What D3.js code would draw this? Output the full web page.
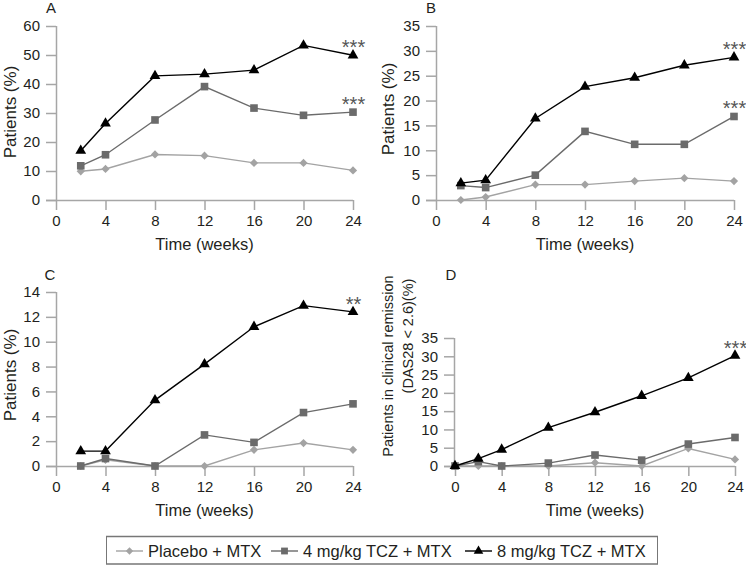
<!DOCTYPE html>
<html>
<head>
<meta charset="utf-8">
<script src="https://cdn.jsdelivr.net/npm/d3@7"></script>
<style>
  html, body { margin: 0; padding: 0; background: #fff; }
  svg { display: block; font-family: "Liberation Sans", Arial, Helvetica, sans-serif; }
</style>
</head>
<body>
<svg id="chart" width="746" height="566"></svg>
<script>
// ---------- DATA ----------
const weeksABC = [2, 4, 8, 12, 16, 20, 24];
const weeksD = [0, 2, 4, 8, 12, 16, 20, 24];
const xTicks = [0, 4, 8, 12, 16, 20, 24];

const seriesNames = ["Placebo + MTX", "4 mg/kg TCZ + MTX", "8 mg/kg TCZ + MTX"];

// Panel A
const placeboA = [9.9, 10.7, 15.7, 15.3, 12.8, 12.8, 10.2];
const tcz4A    = [11.8, 15.6, 27.6, 39.1, 31.7, 29.2, 30.3];
const tcz8A    = [17.0, 26.4, 42.8, 43.4, 44.8, 53.3, 49.9];
const yTicksA  = [0, 10, 20, 30, 40, 50, 60];

// Panel B
const placeboB = [0, 0.6, 3.1, 3.1, 3.8, 4.4, 3.8];
const tcz4B    = [2.9, 2.5, 5.0, 13.8, 11.2, 11.2, 16.8];
const tcz8B    = [3.4, 4.0, 16.4, 22.8, 24.6, 27.1, 28.7];
const yTicksB  = [0, 5, 10, 15, 20, 25, 30, 35];

// Panel C
const placeboC = [0, 0.5, 0, 0, 1.3, 1.85, 1.3];
const tcz4C    = [0, 0.6, 0, 2.5, 1.9, 4.3, 5.0];
const tcz8C    = [1.2, 1.2, 5.3, 8.2, 11.2, 12.9, 12.4];
const yTicksC  = [0, 2, 4, 6, 8, 10, 12, 14];

// Panel D
const placeboD = [0, 0, 0, 0, 0.9, 0, 4.8, 1.8];
const tcz4D    = [0, 1.2, 0, 0.8, 3.0, 1.6, 6.0, 7.8];
const tcz8D    = [0, 2.0, 4.5, 10.5, 14.7, 19.2, 24.1, 30.2];
const yTicksD  = [0, 5, 10, 15, 20, 25, 30, 35];

const sigA = ["***", "***"]; // 8 mg, 4 mg
const sigB = ["***", "***"];
const sigC = ["**", null];
const sigD = ["***", null];

// ---------- STYLE ----------
const colors = ["#a3a3a3", "#6b6b6b", "#000000"];
const axisColor = "#a6a6a6";
const textColor = "#231f20";

function markerPath(si, scale) {
  const k = scale || 1;
  if (si === 0) return d3.symbol().type(d3.symbolSquare).size(34 * k)();
  if (si === 1) return d3.symbol().type(d3.symbolSquare).size(58 * k)();
  return d3.symbol().type(d3.symbolTriangle).size(50 * k)();
}
function markerRot(si) { return si === 0 ? " rotate(45)" : ""; }

const svg = d3.select("#chart");

function drawPanel(cfg) {
  const g = svg.append("g");
  const x = d3.scaleLinear().domain([0, 24]).range(cfg.xr);
  const y = d3.scaleLinear().domain([0, cfg.yTicks[cfg.yTicks.length - 1]]).range(cfg.yr);
  const ax = cfg.axisX;
  const tickLen = 10;

  // y axis
  const yAxis = d3.axisLeft(y).tickValues(cfg.yTicks).tickSize(tickLen).tickPadding(6).tickSizeOuter(0);
  const yg = g.append("g").attr("transform", `translate(${ax},0)`).call(yAxis);
  yg.select(".domain").attr("stroke", axisColor).attr("stroke-width", 1.5)
    .attr("d", `M0.5,${cfg.yr[0]}V${cfg.yr[1]}`);
  yg.selectAll(".tick line").attr("stroke", axisColor).attr("stroke-width", 1.5);
  yg.selectAll(".tick text").attr("fill", textColor).style("font-size", "15px")
    .style("font-family", "Liberation Sans, Arial, sans-serif");

  // x axis
  const xAxis = d3.axisBottom(x).tickValues(xTicks).tickSize(tickLen).tickPadding(5).tickSizeOuter(0);
  const xg = g.append("g").attr("transform", `translate(0,${cfg.yr[0]})`).call(xAxis);
  xg.select(".domain").attr("stroke", axisColor).attr("stroke-width", 1.5)
    .attr("d", `M${ax - tickLen},0.5H${cfg.xr[1]}`);
  xg.selectAll(".tick line").attr("stroke", axisColor).attr("stroke-width", 1.5);
  xg.selectAll(".tick text").attr("fill", textColor).style("font-size", "15px")
    .style("font-family", "Liberation Sans, Arial, sans-serif");

  // titles
  g.append("text").attr("x", (cfg.xr[0] + cfg.xr[1]) / 2).attr("y", cfg.yr[0] + 50)
    .attr("text-anchor", "middle").attr("fill", textColor).style("font-size", "16.5px")
    .text("Time (weeks)");
  cfg.yTitle.forEach((t, i) => {
    g.append("text")
      .attr("transform", `translate(${cfg.yTitleX[i]},${cfg.yTitleY[i]}) rotate(-90)`)
      .attr("text-anchor", "middle").attr("fill", textColor).style("font-size", cfg.yTitleSize)
      .text(t);
  });
  g.append("text").attr("x", cfg.letterPos[0]).attr("y", cfg.letterPos[1])
    .attr("text-anchor", "middle").attr("fill", textColor).style("font-size", "15px")
    .text(cfg.letter);

  // series
  const line = d3.line().x(d => x(d[0])).y(d => y(d[1]));
  cfg.series.forEach((vals, si) => {
    const pts = cfg.weeks.map((w, i) => [w, vals[i]]);
    g.append("path").attr("d", line(pts)).attr("fill", "none")
      .attr("stroke", colors[si]).attr("stroke-width", 1.4);
    g.selectAll(null).data(pts).enter().append("path")
      .attr("transform", d => `translate(${x(d[0])},${y(d[1])})${markerRot(si)}`)
      .attr("d", markerPath(si))
      .attr("fill", colors[si]);
  });

  // significance markers
  const lastIdx = cfg.weeks.length - 1;
  [2, 1].forEach((si, k) => {
    const s = cfg.sig[k];
    if (!s) return;
    g.append("text").attr("x", x(24) + 0.5).attr("y", y(cfg.series[si][lastIdx]) - 1)
      .attr("text-anchor", "middle").attr("fill", "#555").style("font-size", "20px")
      .text(s);
  });
}

drawPanel({
  letter: "A", letterPos: [51, 12.5],
  xr: [56, 353], yr: [200, 26], axisX: 56,
  weeks: weeksABC, series: [placeboA, tcz4A, tcz8A], yTicks: yTicksA, sig: sigA,
  yTitle: ["Patients (%)"], yTitleX: [16], yTitleY: [112], yTitleSize: "17px"
});
drawPanel({
  letter: "B", letterPos: [431, 12.5],
  xr: [436, 734], yr: [200, 26], axisX: 436,
  weeks: weeksABC, series: [placeboB, tcz4B, tcz8B], yTicks: yTicksB, sig: sigB,
  yTitle: ["Patients (%)"], yTitleX: [394], yTitleY: [109], yTitleSize: "17px"
});
drawPanel({
  letter: "C", letterPos: [50, 280],
  xr: [56, 353], yr: [466, 292], axisX: 56,
  weeks: weeksABC, series: [placeboC, tcz4C, tcz8C], yTicks: yTicksC, sig: sigC,
  yTitle: ["Patients (%)"], yTitleX: [16], yTitleY: [375], yTitleSize: "17px"
});
drawPanel({
  letter: "D", letterPos: [451, 280],
  xr: [455, 735], yr: [466, 338], axisX: 454,
  weeks: weeksD, series: [placeboD, tcz4D, tcz8D], yTicks: yTicksD, sig: sigD,
  yTitle: ["Patients in clinical remission", "(DAS28 < 2.6)(%)"],
  yTitleX: [393, 413], yTitleY: [366, 336], yTitleSize: "14.5px"
});

// ---------- LEGEND ----------
const lg = svg.append("g");
lg.append("line").attr("x1", 106).attr("x2", 658).attr("y1", 536.5).attr("y2", 536.5)
  .attr("stroke", "#777").attr("stroke-width", 1.5);
lg.append("line").attr("x1", 106).attr("x2", 658).attr("y1", 564).attr("y2", 564)
  .attr("stroke", "#333").attr("stroke-width", 1.2);
lg.append("line").attr("x1", 106.5).attr("x2", 106.5).attr("y1", 536.5).attr("y2", 564)
  .attr("stroke", "#777").attr("stroke-width", 1);
lg.append("line").attr("x1", 657.5).attr("x2", 657.5).attr("y1", 536.5).attr("y2", 564)
  .attr("stroke", "#777").attr("stroke-width", 1);
const legendX = [116, 271, 465];
seriesNames.forEach((name, si) => {
  const x0 = legendX[si];
  lg.append("line").attr("x1", x0).attr("x2", x0 + 27).attr("y1", 551).attr("y2", 551)
    .attr("stroke", colors[si]).attr("stroke-width", 1.4);
  lg.append("path").attr("transform", `translate(${x0 + 13.5},551)${markerRot(si)}`)
    .attr("d", markerPath(si, 0.8)).attr("fill", colors[si]);
  lg.append("text").attr("x", x0 + 32).attr("y", 557).attr("fill", textColor)
    .style("font-size", "16.5px").text(name);
});
</script>
</body>
</html>
